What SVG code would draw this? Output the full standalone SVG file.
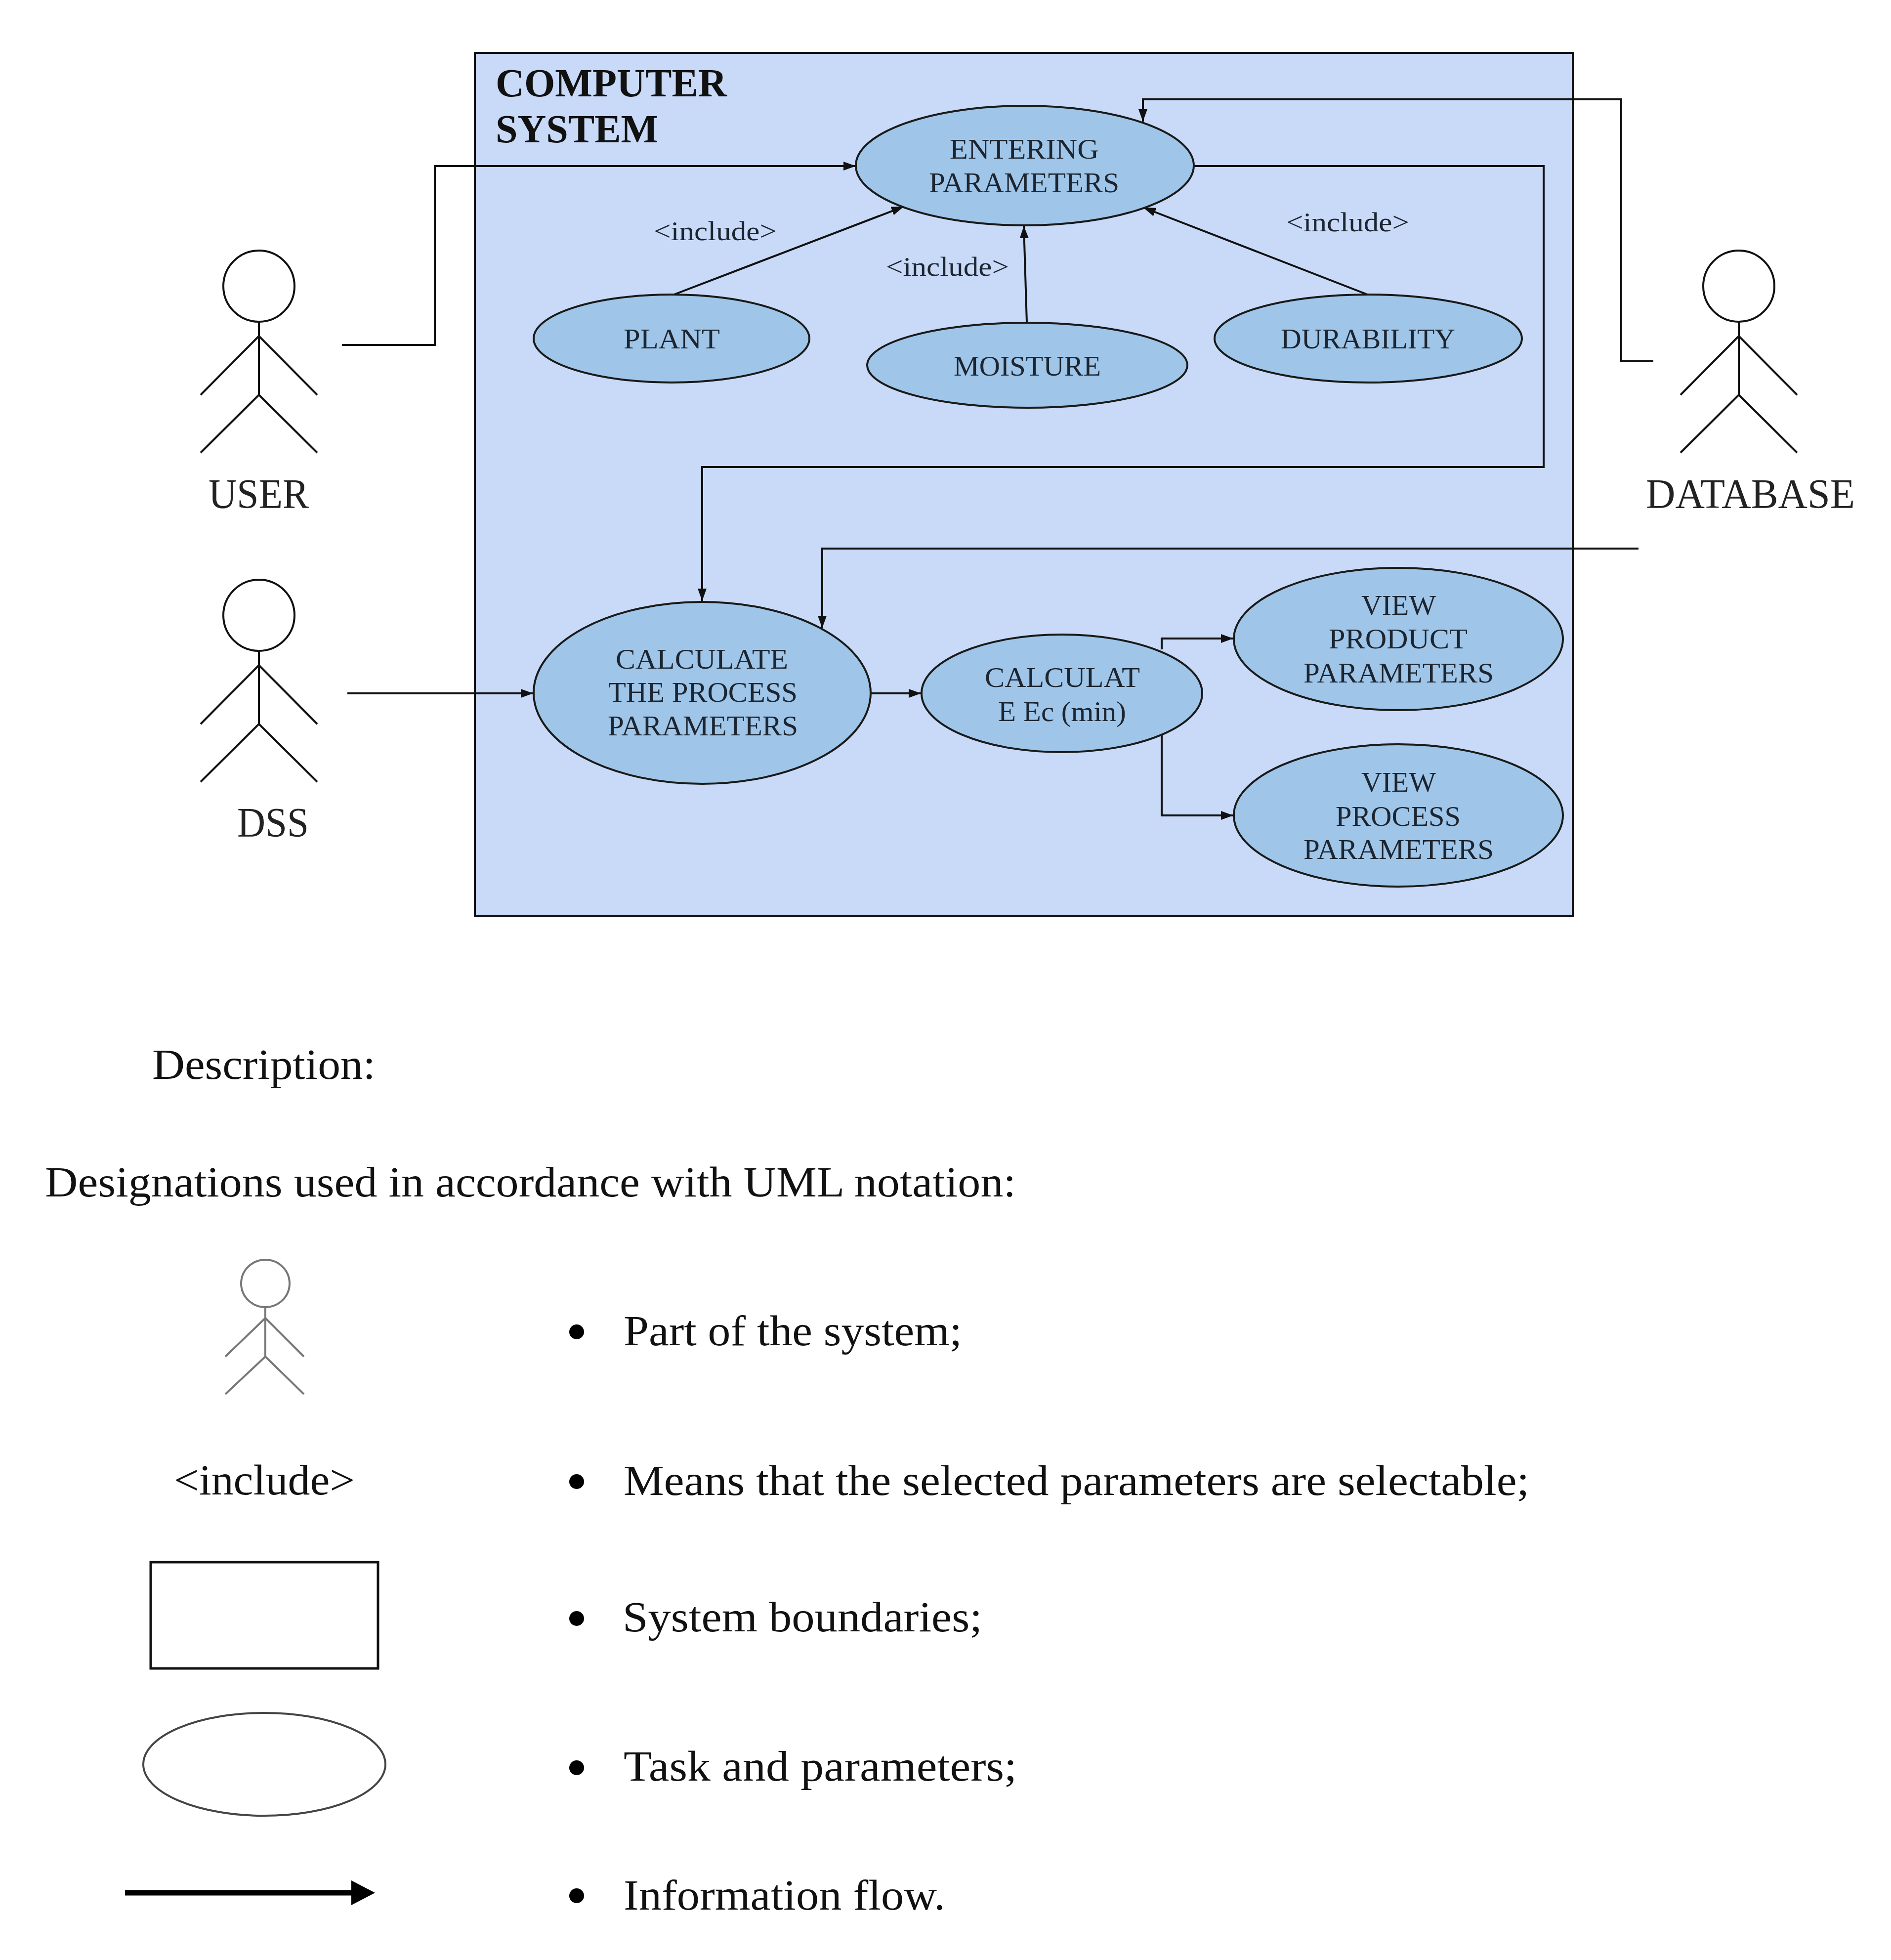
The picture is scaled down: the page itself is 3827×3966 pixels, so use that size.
<svg xmlns="http://www.w3.org/2000/svg" width="3827" height="3966" viewBox="0 0 3827 3966">
<style>
text{font-family:"Liberation Serif","Times New Roman",serif;fill:#111;white-space:pre}
.t{font-size:58px;fill:#1c2530}
.inc{font-size:54px;fill:#1c2530}
.title{font-size:80px;font-weight:bold}
.actorlabel{font-size:84px;fill:#222}
.body{font-size:86px}
.uc{fill:#9fc5e8;stroke:#1a1a1a;stroke-width:4}
.actor{fill:none;stroke:#111;stroke-width:4}
.lg{fill:none;stroke:#777;stroke-width:4}
.c{fill:none;stroke:#111;stroke-width:4;marker-end:url(#a)}
</style>
<defs>
<marker id="a" markerUnits="userSpaceOnUse" markerWidth="26" markerHeight="22" refX="25" refY="11" orient="auto"><path d="M0,2 L25,11 L0,20 Z" fill="#111"/></marker>
<g id="stick"><circle cx="0" cy="0" r="72"/><path d="M0,72 V220 M0,101 L-118,220 M0,101 L118,220 M0,220 L-118,337 M0,220 L118,337"/></g>
</defs>
<rect width="3827" height="3966" fill="#fff"/>
<g id="system-boundary">
<rect x="961" y="107" width="2222" height="1747" fill="#c9daf8" stroke="#111" stroke-width="4"/>
<text class="title" x="1003" y="195" textLength="468" lengthAdjust="spacingAndGlyphs">COMPUTER</text>
<text class="title" x="1003" y="288" textLength="329" lengthAdjust="spacingAndGlyphs">SYSTEM</text>
</g>
<g id="connectors">
<path class="c" d="M692,698 H880 V336 H1732"/>
<path class="c" d="M3346,731 H3281 V201 H2313 V246"/>
<path class="c" d="M2416,336 H3124 V945 H1421 V1216"/>
<path class="c" d="M3316,1110 H1664 V1271"/>
<path class="c" d="M703,1403 H1079"/>
<path class="c" d="M1762,1403 H1864"/>
<path class="c" d="M2351,1314 V1292 H2496"/>
<path class="c" d="M2351,1488 V1650 H2496"/>
<path class="c" d="M1364,596 L1829,418"/>
<path class="c" d="M2078,652 L2072,457"/>
<path class="c" d="M2770,597 L2314,420"/>
<text class="inc" x="1323" y="486" textLength="249" lengthAdjust="spacingAndGlyphs">&lt;include&gt;</text>
<text class="inc" x="1793" y="558" textLength="249" lengthAdjust="spacingAndGlyphs">&lt;include&gt;</text>
<text class="inc" x="2603" y="468" textLength="249" lengthAdjust="spacingAndGlyphs">&lt;include&gt;</text>
</g>
<g id="actor-user"><use href="#stick" class="actor" x="524" y="579"/><text class="actorlabel" x="422" y="1028" textLength="203" lengthAdjust="spacingAndGlyphs">USER</text></g>
<g id="actor-database"><use href="#stick" class="actor" x="3519" y="579"/><text class="actorlabel" x="3331" y="1028" textLength="423" lengthAdjust="spacingAndGlyphs">DATABASE</text></g>
<g id="actor-dss"><use href="#stick" class="actor" x="524" y="1245"/><text class="actorlabel" x="480" y="1693" textLength="145" lengthAdjust="spacingAndGlyphs">DSS</text></g>
<g id="uc-entering"><ellipse class="uc" cx="2074" cy="335" rx="342" ry="121"/><text class="t" x="1922" y="321" textLength="302" lengthAdjust="spacingAndGlyphs">ENTERING</text><text class="t" x="1880" y="389" textLength="385" lengthAdjust="spacingAndGlyphs">PARAMETERS</text></g>
<g id="uc-plant"><ellipse class="uc" cx="1359" cy="685" rx="279" ry="89"/><text class="t" x="1262" y="705" textLength="195" lengthAdjust="spacingAndGlyphs">PLANT</text></g>
<g id="uc-moisture"><ellipse class="uc" cx="2079" cy="739" rx="324" ry="86"/><text class="t" x="1930" y="760" textLength="298" lengthAdjust="spacingAndGlyphs">MOISTURE</text></g>
<g id="uc-durability"><ellipse class="uc" cx="2769" cy="685" rx="311" ry="89"/><text class="t" x="2592" y="705" textLength="353" lengthAdjust="spacingAndGlyphs">DURABILITY</text></g>
<g id="uc-calculate-process"><ellipse class="uc" cx="1421" cy="1402" rx="341" ry="184"/><text class="t" x="1246" y="1353" textLength="349" lengthAdjust="spacingAndGlyphs">CALCULATE</text><text class="t" x="1231" y="1420" textLength="383" lengthAdjust="spacingAndGlyphs">THE PROCESS</text><text class="t" x="1230" y="1488" textLength="385" lengthAdjust="spacingAndGlyphs">PARAMETERS</text></g>
<g id="uc-calculate-ec"><ellipse class="uc" cx="2149" cy="1403" rx="284" ry="119"/><text class="t" x="1993" y="1390" textLength="314" lengthAdjust="spacingAndGlyphs">CALCULAT</text><text class="t" x="2020" y="1459" textLength="259" lengthAdjust="spacingAndGlyphs">E Ec (min)</text></g>
<g id="uc-view-product"><ellipse class="uc" cx="2830" cy="1293" rx="333" ry="144"/><text class="t" x="2755" y="1244" textLength="151" lengthAdjust="spacingAndGlyphs">VIEW</text><text class="t" x="2689" y="1312" textLength="281" lengthAdjust="spacingAndGlyphs">PRODUCT</text><text class="t" x="2638" y="1381" textLength="385" lengthAdjust="spacingAndGlyphs">PARAMETERS</text></g>
<g id="uc-view-process"><ellipse class="uc" cx="2830" cy="1650" rx="333" ry="144"/><text class="t" x="2755" y="1602" textLength="151" lengthAdjust="spacingAndGlyphs">VIEW</text><text class="t" x="2703" y="1671" textLength="253" lengthAdjust="spacingAndGlyphs">PROCESS</text><text class="t" x="2638" y="1738" textLength="385" lengthAdjust="spacingAndGlyphs">PARAMETERS</text></g>
<g id="description">
<text class="body" x="308" y="2183" textLength="452" lengthAdjust="spacingAndGlyphs">Description:</text>
<text class="body" x="91" y="2421" textLength="1965" lengthAdjust="spacingAndGlyphs">Designations used in accordance with UML notation:</text>
</g>
<g id="legend-actor">
<ellipse class="lg" cx="537" cy="2597" rx="49" ry="48"/>
<path class="lg" d="M537,2645 V2745 M537,2667 L456,2745 M537,2667 L615,2745 M537,2745 L456,2821 M537,2745 L615,2821"/>
<circle cx="1167" cy="2695" r="15" fill="#000"/>
<text class="body" x="1262" y="2722" textLength="685" lengthAdjust="spacingAndGlyphs">Part of the system;</text>
</g>
<g id="legend-include">
<text class="body" x="352" y="3024" textLength="366" lengthAdjust="spacingAndGlyphs">&lt;include&gt;</text>
<circle cx="1167" cy="2998" r="15" fill="#000"/>
<text class="body" x="1262" y="3025" textLength="1833" lengthAdjust="spacingAndGlyphs">Means that the selected parameters are selectable;</text>
</g>
<g id="legend-boundary">
<rect x="305" y="3161" width="460" height="215" fill="none" stroke="#111" stroke-width="5"/>
<circle cx="1167" cy="3275" r="15" fill="#000"/>
<text class="body" x="1260" y="3301" textLength="728" lengthAdjust="spacingAndGlyphs">System boundaries;</text>
</g>
<g id="legend-task">
<ellipse cx="535" cy="3570" rx="245" ry="104" fill="none" stroke="#444" stroke-width="4"/>
<circle cx="1167" cy="3577" r="15" fill="#000"/>
<text class="body" x="1262" y="3603" textLength="796" lengthAdjust="spacingAndGlyphs">Task and parameters;</text>
</g>
<g id="legend-flow">
<path d="M253,3830 H715" stroke="#000" stroke-width="11" fill="none"/>
<path d="M711,3805 L759,3830 L711,3855 Z" fill="#000"/>
<circle cx="1167" cy="3836" r="15" fill="#000"/>
<text class="body" x="1262" y="3864" textLength="651" lengthAdjust="spacingAndGlyphs">Information flow.</text>
</g>
</svg>
